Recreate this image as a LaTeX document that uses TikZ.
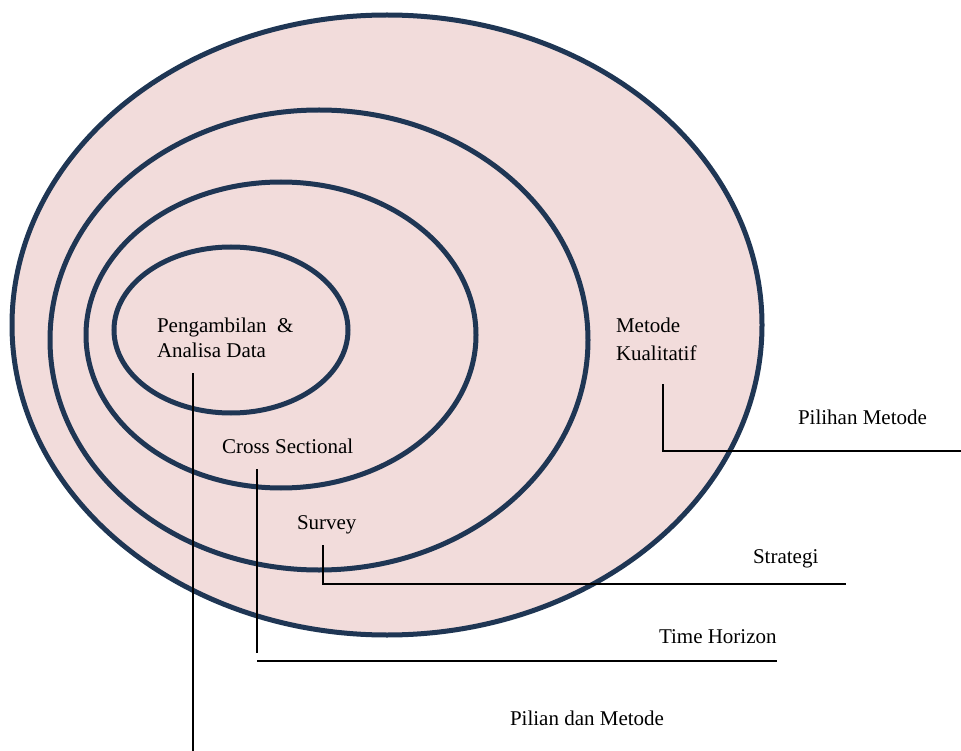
\documentclass[tikz,border=0pt]{standalone}
\usepackage{fontspec}
\setmainfont{Liberation Serif}
\definecolor{ringfill}{HTML}{F2DCDB}
\definecolor{ringline}{HTML}{1F3654}
\begin{document}
\begin{tikzpicture}[x=1pt,y=-1pt,
  ring/.style={draw=ringline,fill=ringfill,line width=5pt},
  conn/.style={draw=black,line width=1.6pt},
  lbl/.style={anchor=base west,inner sep=0pt,outer sep=0pt,font=\fontsize{21}{25}\selectfont,text=black}]
\useasboundingbox (0,0) rectangle (961,751);
% rings
\path[ring] (387,325) ellipse [x radius=375pt, y radius=310pt];
\path[ring] (319,340) ellipse [x radius=269pt, y radius=230pt];
\path[ring] (281,335) ellipse [x radius=195pt, y radius=153pt];
\path[ring] (231,330) ellipse [x radius=117pt, y radius=83pt];
% labels
\node[lbl] (pa1) at (157,332) {Pengambilan\ \ \&};
\node[lbl] (pa2) at (157,357) {Analisa Data};
\node[lbl] (cs) at (222,453) {Cross Sectional};
\node[lbl] (sv) at (297,529) {Survey};
\node[lbl] (mk1) at (616,332) {Metode};
\node[lbl] (mk2) at (616,360) {Kualitatif};
\node[lbl] (pm) at (798,424) {Pilihan Metode};
\node[lbl] (st) at (753,563) {Strategi};
\node[lbl] (th) at (659,643) {Time Horizon};
\node[lbl] (pd) at (510,725) {Pilian dan Metode};
% connector points
\coordinate (a1) at (193,373);
\coordinate (a2) at (193,751);
\coordinate (b1) at (257,469);
\coordinate (b2) at (257,653);
\coordinate (b3) at (257,661);
\coordinate (b4) at (777,661);
\coordinate (s1) at (323,545);
\coordinate (s2) at (323,584);
\coordinate (s3) at (846,584);
\coordinate (m1) at (663,384);
\coordinate (m2) at (663,451);
\coordinate (m3) at (961,451);
% connectors
\draw[conn] (a1) -- (a2);
\draw[conn] (b1) -- (b2);
\draw[conn] (b3) -- (b4);
\draw[conn] (s1) -- (s2) -- (s3);
\draw[conn] (m1) -- (m2) -- (m3);
\end{tikzpicture}
\end{document}
